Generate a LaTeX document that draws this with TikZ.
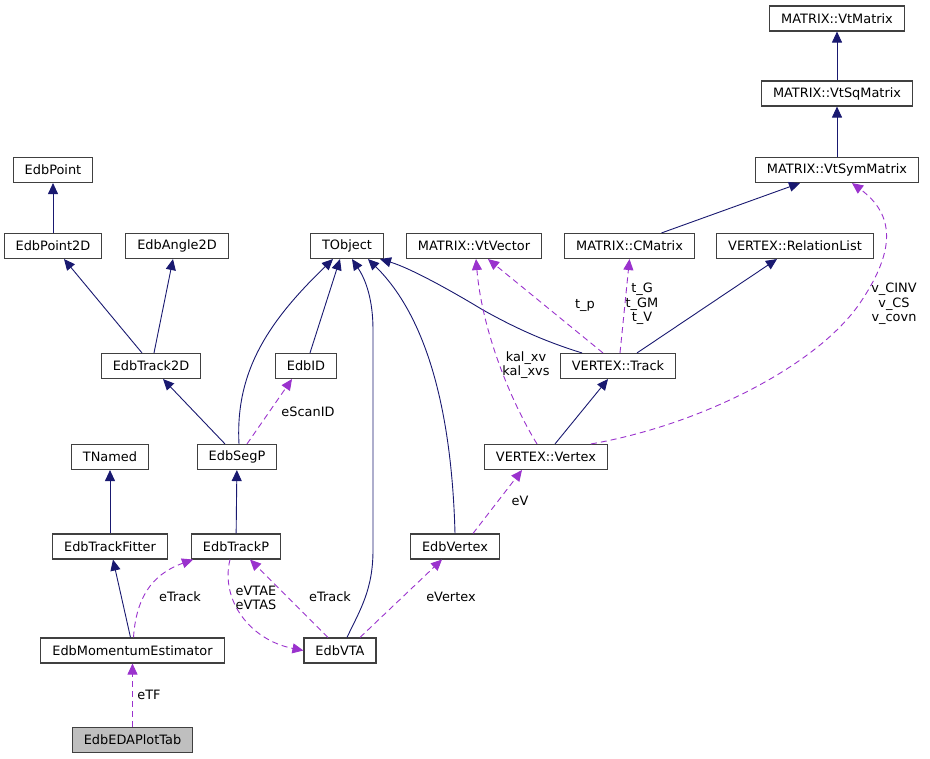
\documentclass[tikz,border=0pt]{standalone}
\usepackage{fontspec}
\setmainfont{DejaVu Sans}
\usetikzlibrary{arrows.meta}

\definecolor{inherit}{HTML}{191970}
\definecolor{usage}{HTML}{9A32CD}
\definecolor{boxline}{HTML}{404040}

\begin{document}
\begin{tikzpicture}[x=1pt,y=-1pt,
  every node/.style = {font=\fontsize{12.9}{14.5}\selectfont},
  cls/.style = {draw=boxline, line width=1.1pt, fill=white,
    minimum height=25pt, inner xsep=11.5pt, inner ysep=0pt},
  this/.style = {cls, fill=black!25},
  base/.style = {draw=inherit, line width=0.9pt,
    -{Triangle[length=11pt,width=10pt]}},
  uses/.style = {draw=usage, line width=0.9pt, dash pattern=on 6pt off 4pt,
    -{Triangle[length=11pt,width=10pt]}},
  lbl/.style = {align=center, inner sep=0pt}]
  \useasboundingbox (0,0) rectangle (930,759);
  % classes
  \node[cls] (VtMatrix) at (837,18.5) {MATRIX::VtMatrix};
  \node[cls] (VtSqMatrix) at (837,93.5) {MATRIX::VtSqMatrix};
  \node[cls] (VtSymMatrix) at (837,170) {MATRIX::VtSymMatrix};
  \node[cls] (EdbPoint) at (53,170) {EdbPoint};
  \node[cls] (EdbPoint2D) at (53,246) {EdbPoint2D};
  \node[cls] (EdbAngle2D) at (177,246) {EdbAngle2D};
  \node[cls] (TObject) at (347,246) {TObject};
  \node[cls] (VtVector) at (474,246) {MATRIX::VtVector};
  \node[cls] (CMatrix) at (629.5,246) {MATRIX::CMatrix};
  \node[cls] (RelationList) at (795,246) {VERTEX::RelationList};
  \node[cls] (EdbTrack2D) at (151,366) {EdbTrack2D};
  \node[cls] (EdbID) at (306,366) {EdbID};
  \node[cls] (VTrack) at (618,366) {VERTEX::Track};
  \node[cls] (TNamed) at (110,457) {TNamed};
  \node[cls] (EdbSegP) at (237,457) {EdbSegP};
  \node[cls] (VVertex) at (546,457) {VERTEX::Vertex};
  \node[cls] (EdbTrackFitter) at (110,546.5) {EdbTrackFitter};
  \node[cls] (EdbTrackP) at (236,546.5) {EdbTrackP};
  \node[cls] (EdbVertex) at (455,546.5) {EdbVertex};
  \node[cls] (MomEst) at (132.5,650.5) {EdbMomentumEstimator};
  \node[cls] (EdbVTA) at (340,650.5) {EdbVTA};
  \node[this] (PlotTab) at (132.5,740) {EdbEDAPlotTab};
  % inheritance
  \draw[base] (VtSqMatrix) -- (VtMatrix);
  \draw[base] (VtSymMatrix) -- (VtSqMatrix);
  \draw[base] ([xshift=32]CMatrix.north) -- ([xshift=-37]VtSymMatrix.south);
  \draw[base] (EdbPoint2D) -- (EdbPoint);
  \draw[base] ([xshift=-9]EdbTrack2D.north) -- ([xshift=11]EdbPoint2D.south);
  \draw[base] ([xshift=3]EdbTrack2D.north) -- ([xshift=-4]EdbAngle2D.south);
  \draw[base] ([xshift=4]EdbID.north) -- ([xshift=-7]TObject.south);
  \draw[base] ([xshift=2]EdbSegP.north) .. controls (235,370) and (270,320) .. ([xshift=-14]TObject.south);
  \draw[base] ([xshift=7]EdbVTA.north) .. controls (360,610) and (373,590) .. (373,550)
    -- (373,330) .. controls (373,300) and (366,280) .. ([xshift=5]TObject.south);
  \draw[base] (EdbVertex.north) .. controls (452,420) and (430,320) .. ([xshift=21]TObject.south);
  \draw[base] ([xshift=-36]VTrack.north) .. controls (540,340) and (510,325) .. (483,310)
    .. controls (450,290) and (410,268) .. ([xshift=33]TObject.south);
  \draw[base] ([xshift=19]VTrack.north) -- ([xshift=-18]RelationList.south);
  \draw[base] ([xshift=9]VVertex.north) -- ([xshift=-10]VTrack.south);
  \draw[base] ([xshift=-12]EdbSegP.north) -- ([xshift=12]EdbTrack2D.south);
  \draw[base] (EdbTrackP) -- (EdbSegP);
  \draw[base] (EdbTrackFitter) -- (TNamed);
  \draw[base] ([xshift=-2]MomEst.north) -- ([xshift=3]EdbTrackFitter.south);
  % usage
  \draw[uses] ([xshift=10]EdbSegP.north) -- ([xshift=-14]EdbID.south);
  \node[lbl] (lScan) at (308,412) {eScanID};
  \draw[uses] ([xshift=-15]VTrack.north) -- ([xshift=14]VtVector.south);
  \node[lbl] (lTp) at (585,305) {t\_p};
  \draw[uses] ([xshift=2]VTrack.north) -- (CMatrix.south);
  \node[lbl] (lTg) at (642,304) {t\_G\\t\_GM\\t\_V};
  \draw[uses] ([xshift=-9]VVertex.north) .. controls (510,400) and (482,330) .. ([xshift=2]VtVector.south);
  \node[lbl] (lKal) at (526,365) {kal\_xv\\kal\_xvs};
  \draw[uses] ([xshift=45]VVertex.north) .. controls (700,425) and (820,365) .. (862,300)
    .. controls (895,250) and (895,215) .. ([xshift=15]VtSymMatrix.south);
  \node[lbl] (lCinv) at (894,304) {v\_CINV\\v\_CS\\v\_covn};
  \draw[uses] ([xshift=18]EdbVertex.north) -- ([xshift=-24]VVertex.south);
  \node[lbl] (lEv) at (520,501) {eV};
  \draw[uses] ([xshift=1]MomEst.north) .. controls (136,600) and (150,575) .. ([xshift=-43]EdbTrackP.south);
  \node[lbl] (lTrackA) at (180,597) {eTrack};
  \draw[uses] ([xshift=-6]EdbTrackP.south) .. controls (220,600) and (250,640) .. (EdbVTA.west);
  \node[lbl] (lVtae) at (256,598) {eVTAE\\eVTAS};
  \draw[uses] ([xshift=-12]EdbVTA.north) -- ([xshift=14]EdbTrackP.south);
  \node[lbl] (lTrackB) at (330,597) {eTrack};
  \draw[uses] ([xshift=20]EdbVTA.north) -- ([xshift=-13]EdbVertex.south);
  \node[lbl] (lVertex) at (451,597) {eVertex};
  \draw[uses] (PlotTab) -- (MomEst);
  \node[lbl] (lTf) at (149,695) {eTF};
\end{tikzpicture}
\end{document}
